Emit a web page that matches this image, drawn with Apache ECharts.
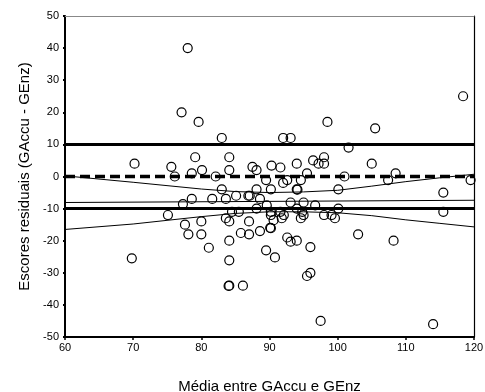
<!DOCTYPE html>
<html>
<head>
<meta charset="utf-8">
<script src="https://cdn.jsdelivr.net/npm/echarts@6/dist/echarts.min.js"></script>
<style>
html,body{margin:0;padding:0;background:#fff;}
#c{width:485px;height:392px;}
</style>
</head>
<body>
<div id="c"></div>
<script>
// Data
var pointX = [78.0,77.1,79.6,83.0,92.0,93.1,98.5,105.5,118.4,101.6,
  70.2,75.6,76.1,78.6,79.1,80.1,82.1,84.1,84.1,83.0,
  83.6,81.6,78.6,77.3,75.1,77.6,78.1,80.0,80.0,81.1,
  69.8,83.6,84.1,84.5,85.1,85.5,84.1,84.1,84.0,84.1,
  86.1,85.8,87.0,87.0,86.9,87.1,87.5,88.1,88.1,88.6,
  88.1,88.6,89.5,89.6,90.2,90.3,90.2,90.2,90.1,90.2,
  89.5,90.8,90.6,91.6,92.0,92.6,91.6,91.8,92.1,93.1,
  92.6,93.1,94.0,94.0,94.0,94.1,94.0,94.6,94.6,95.0,
  95.0,94.8,95.5,96.0,96.0,95.5,96.4,97.2,98.0,98.0,
  96.7,98.0,99.1,99.6,100.1,100.1,101.0,97.5,103.0,105.0,
  107.4,108.5,108.2,114.0,115.5,115.5,119.5];
var pointY = [40,20,17,12,12,12,17,15,25,9,
  4,3,0,1,6,2,0,6,2,-4,
  -7,-7,-7,-8.6,-12,-15,-18,-14,-18,-22.2,
  -25.5,-13,-14,-11,-6,-11,-20,-26.1,-34.1,-34,
  -34,-17.6,-14,-18,-6,-6,3,2,-4,-7,
  -10,-17,-1.1,-9,-4,3.4,-11,-12,-16,-16.1,
  -23,-25.2,-13.6,2.8,-2,-1.1,-11,-13,-12,-8.1,
  -19,-20.3,-20,4,-4,-4.1,-10,-1.1,-13,-8.1,
  -12,-11,1,-22,-30,-31,5,4,6,4,
  -9,-12,-12,-13,-4,-10,0,-45,-18,4,
  -1.1,1,-20,-46,-5,-11,-1.1];

var refX = [60, 120];
var upperLimitY = [10, 10];
var meanY = [0, 0];
var lowerLimitY = [-10, -10];
var regY = [-8.1, -7.4];

var bandX = [60, 70, 80, 85, 90, 95, 100, 105, 110, 115, 120];
var bandUpper = [0.2, -1.8, -3.9, -4.7, -5.0, -4.8, -4.3, -3.0, -1.6, -0.4, 0.7];
var bandLower = [-16.5, -14.8, -12.5, -11.5, -11.0, -11.0, -11.3, -12.2, -13.5, -14.6, -15.7];

var xTicks = [60, 70, 80, 90, 100, 110, 120];
var yTicks = [-50, -40, -30, -20, -10, 0, 10, 20, 30, 40, 50];

function zip(xs, ys) { return xs.map(function (x, i) { return [x, ys[i]]; }); }

var FONT = '"Liberation Sans", Arial, sans-serif';
var chart = echarts.init(document.getElementById('c'), null, {renderer: 'canvas'});

function hLine(ys, width, type) {
  return {
    type: 'line', data: zip(refX, ys), showSymbol: false, silent: true,
    lineStyle: {color: '#000', width: width, type: type || 'solid', cap: 'butt'}, z: 3, animation: false
  };
}

chart.setOption({
  animation: false,
  backgroundColor: '#fff',
  grid: {left: 65, right: 11, top: 16, bottom: 55, containLabel: false, outerBoundsMode: 'none'},
  xAxis: [{
    type: 'value', min: xTicks[0], max: xTicks[xTicks.length - 1], interval: 10,
    axisLine: {onZero: false, lineStyle: {color: '#000', width: 2}},
    axisTick: {show: true, length: 3, lineStyle: {color: '#000', width: 1.5}},
    axisLabel: {color: '#000', fontSize: 11, fontFamily: FONT, margin: 5},
    splitLine: {show: false},
    name: 'Média entre GAccu e GEnz', nameLocation: 'middle', nameGap: 42,
    nameTextStyle: {color: '#000', fontSize: 15, fontFamily: FONT}
  }, {
    type: 'value', position: 'top', min: 60, max: 120,
    axisLine: {show: true, onZero: false, lineStyle: {color: '#888', width: 1}},
    axisTick: {show: false}, axisLabel: {show: false}, splitLine: {show: false}
  }],
  yAxis: [{
    type: 'value', min: yTicks[0], max: yTicks[yTicks.length - 1], interval: 10,
    axisLine: {show: true, onZero: false, lineStyle: {color: '#000', width: 2}},
    axisTick: {show: true, length: 2, lineStyle: {color: '#000', width: 2}},
    axisLabel: {color: '#000', fontSize: 11, fontFamily: FONT, margin: 6},
    splitLine: {show: false},
    name: 'Escores residuais (GAccu - GEnz)', nameLocation: 'middle', nameGap: 33,
    nameTextStyle: {color: '#000', fontSize: 15, fontFamily: FONT}
  }, {
    type: 'value', position: 'right', min: -50, max: 50,
    axisLine: {show: true, onZero: false, lineStyle: {color: '#000', width: 1.2}},
    axisTick: {show: false}, axisLabel: {show: false}, splitLine: {show: false}
  }],
  series: [
    hLine(upperLimitY, 3),
    hLine(meanY, 3.5, [10, 5]),
    hLine(lowerLimitY, 3),
    hLine(regY, 1),
    {type: 'line', data: zip(bandX, bandUpper), showSymbol: false, silent: true,
     lineStyle: {color: '#000', width: 1}, z: 3},
    {type: 'line', data: zip(bandX, bandLower), showSymbol: false, silent: true,
     lineStyle: {color: '#000', width: 1}, z: 3},
    {type: 'scatter', data: zip(pointX, pointY), symbol: 'circle', symbolSize: 9,
     itemStyle: {color: 'rgba(0,0,0,0)', borderColor: '#000', borderWidth: 1.2, opacity: 1}, z: 4}
  ]
});
</script>
</body>
</html>
